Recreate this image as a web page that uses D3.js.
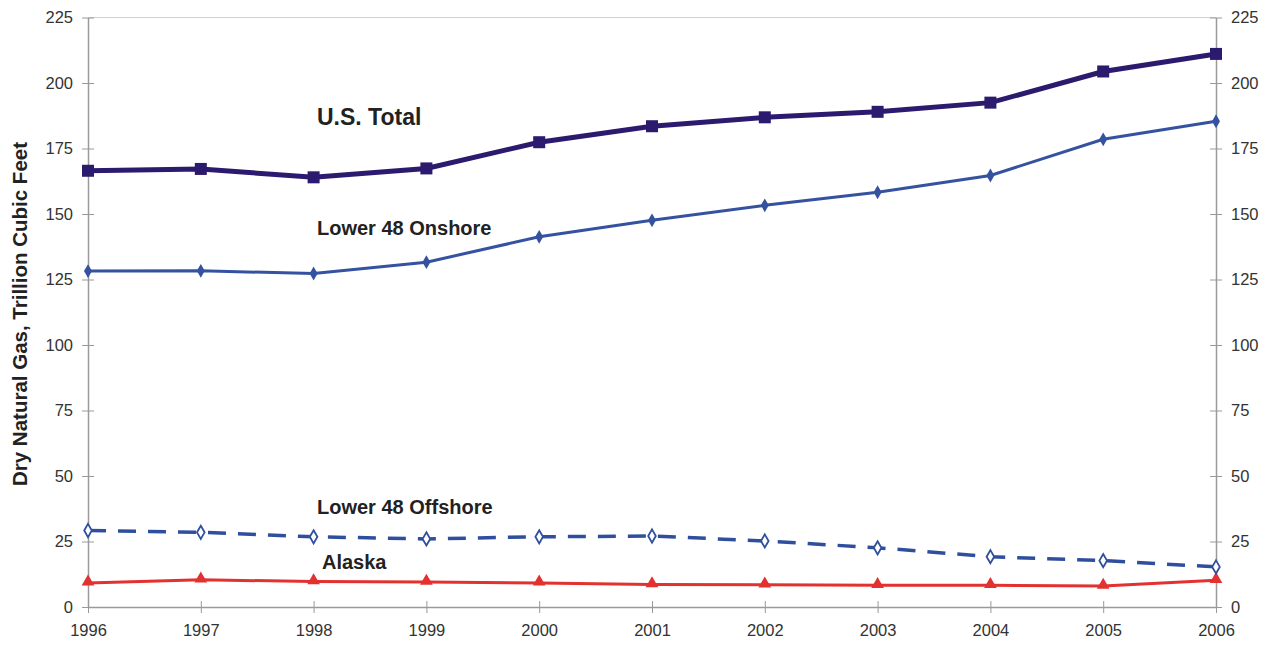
<!DOCTYPE html>
<html><head><meta charset="utf-8">
<script src="https://cdn.jsdelivr.net/npm/d3@7"></script>
<style>body{margin:0;background:#fff;} text{font-family:"Liberation Sans",Arial,sans-serif;}</style>
</head><body>
<svg id="c" width="1268" height="645"></svg>
<script>
const years = [1996,1997,1998,1999,2000,2001,2002,2003,2004,2005,2006];
const yTicks = [0,25,50,75,100,125,150,175,200,225];
const usTotal = [166.5,167.2,164.0,167.4,177.4,183.5,186.9,189.0,192.5,204.4,211.1];
const onshore = [128.2,128.3,127.3,131.6,141.3,147.6,153.3,158.3,164.7,178.5,185.4];
const offshore = [29.2,28.5,26.8,26.0,26.8,27.1,25.2,22.6,19.2,17.7,15.3];
const alaska = [9.2,10.4,9.7,9.5,9.2,8.6,8.5,8.3,8.3,8.0,10.2];

const svg = d3.select("#c");
const x = d3.scaleLinear().domain([1996,2006]).range([88,1216]);
const y = d3.scaleLinear().domain([0,225]).range([607,17.5]);

// top gridline
svg.append("line").attr("x1",x(1996)).attr("x2",x(2006)).attr("y1",y(225)).attr("y2",y(225))
  .attr("stroke","#d0d0d0").attr("stroke-width",1.2);

function styleAxis(g){
  g.selectAll(".domain").attr("stroke","#9a9a9a").attr("stroke-width",1.5);
  g.selectAll(".tick line").attr("stroke","#9a9a9a").attr("stroke-width",1);
  g.selectAll(".tick text").attr("fill","#333").style("font-size","16.5px").style("font-family","'Liberation Sans',Arial,sans-serif");
}
const yl = svg.append("g").attr("transform","translate(88,0)")
  .call(d3.axisLeft(y).tickValues(yTicks).tickSize(6).tickSizeOuter(0).tickPadding(9));
yl.selectAll(".tick line").attr("x2",6).attr("x1",-6);
styleAxis(yl);
const yr = svg.append("g").attr("transform","translate(1216,0)")
  .call(d3.axisRight(y).tickValues(yTicks).tickSize(6).tickSizeOuter(0).tickPadding(9));
yr.selectAll(".tick line").attr("x1",-6).attr("x2",6);
styleAxis(yr);
const xa = svg.append("g").attr("transform","translate(0,607)")
  .call(d3.axisBottom(x).tickValues(years).tickFormat(d3.format("d")).tickSize(6).tickSizeOuter(0).tickPadding(11));
xa.selectAll(".tick line").attr("y1",-6).attr("y2",6);
styleAxis(xa);

const line = d3.line().x((d,i)=>x(years[i])).y(d=>y(d));

// Alaska
svg.append("path").datum(alaska).attr("d",line).attr("fill","none").attr("stroke","#e2312f").attr("stroke-width",3);
svg.selectAll(".ak").data(alaska).join("path")
  .attr("d",d3.symbol(d3.symbolTriangle,70)())
  .attr("transform",(d,i)=>`translate(${x(years[i])},${y(d)-1})`).attr("fill","#e2312f");

// Offshore
svg.append("path").datum(offshore).attr("d",line).attr("fill","none").attr("stroke","#2f4f9e").attr("stroke-width",3.5)
  .attr("stroke-dasharray","18,12");
svg.selectAll(".off").data(offshore).join("path")
  .attr("d",d3.symbol(d3.symbolDiamond,50)())
  .attr("transform",(d,i)=>`translate(${x(years[i])},${y(d)})`).attr("fill","#fff").attr("stroke","#2f4f9e").attr("stroke-width",1.8);

// Onshore
svg.append("path").datum(onshore).attr("d",line).attr("fill","none").attr("stroke","#3552a0").attr("stroke-width",3);
svg.selectAll(".on").data(onshore).join("path")
  .attr("d",d3.symbol(d3.symbolDiamond,55)())
  .attr("transform",(d,i)=>`translate(${x(years[i])},${y(d)})`).attr("fill","#3552a0");

// US total
svg.append("path").datum(usTotal).attr("d",line).attr("fill","none").attr("stroke","#2b1a6e").attr("stroke-width",5);
svg.selectAll(".us").data(usTotal).join("rect")
  .attr("x",(d,i)=>x(years[i])-6).attr("y",d=>y(d)-6).attr("width",12).attr("height",12).attr("fill","#2b1a6e");

// labels
const lab = (t,xx,yy,fs)=>svg.append("text").attr("x",xx).attr("y",yy).text(t)
  .attr("fill","#222").style("font-weight","bold").style("font-size",fs+"px");
lab("U.S. Total",317,125,23);
lab("Lower 48 Onshore",317,235,20);
lab("Lower 48 Offshore",317,514,20);
lab("Alaska",322,569,20);

svg.append("text").attr("transform","translate(27,314) rotate(-90)").attr("text-anchor","middle")
  .text("Dry Natural Gas, Trillion Cubic Feet").attr("fill","#222").style("font-weight","bold").style("font-size","20.5px");
</script>
</body></html>
